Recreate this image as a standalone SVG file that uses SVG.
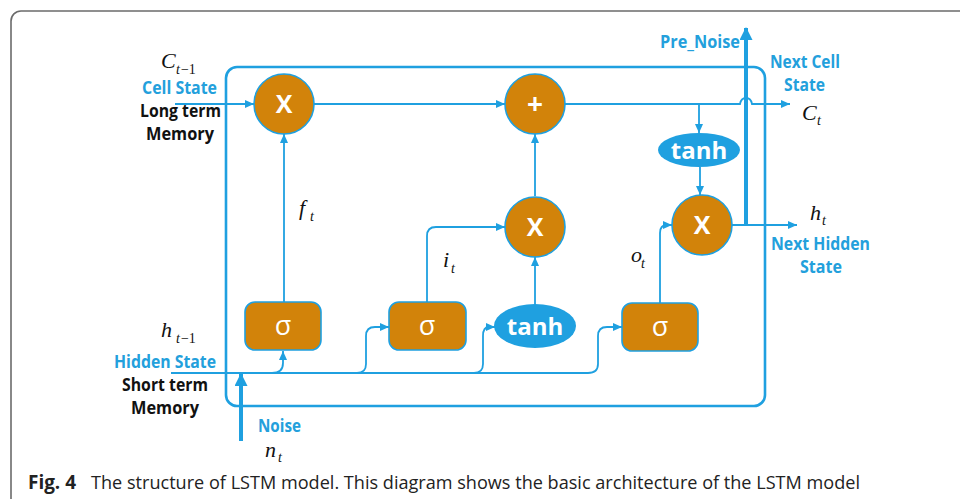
<svg xmlns="http://www.w3.org/2000/svg" width="960" height="499" viewBox="0 0 960 499">
<defs>
<style>
.frame{fill:none;stroke:#6b6b6b;stroke-width:1.6}
.box{fill:none;stroke:#1fa0e0;stroke-width:2.6}
.ln{fill:none;stroke:#1fa0e0;stroke-width:1.8}
.thick{fill:none;stroke:#1fa0e0;stroke-width:4}
.op{fill:#d2830a;stroke:#1fa0e0;stroke-width:1.6}
.tanh{fill:#1fa0e0;stroke:none}
.opt{font-family:"Open Sans","DejaVu Sans",sans-serif;font-weight:bold;fill:#ffffff;text-anchor:middle}
.sig{font-family:"Open Sans","DejaVu Sans",sans-serif;fill:#ffffff;text-anchor:middle;font-size:27px}
.bl{font-family:"Open Sans","DejaVu Sans",sans-serif;font-weight:bold;fill:#23a0dc;font-size:17px}
.bk{font-family:"Open Sans","DejaVu Sans",sans-serif;font-weight:bold;fill:#111111;font-size:17px}
.m{font-family:"Liberation Serif","DejaVu Serif",serif;font-style:italic;fill:#111111;font-size:22px}
.s{font-size:14px}
.cap{font-family:"Open Sans","Noto Sans",sans-serif;fill:#222222;font-size:19px}
</style>
<marker id="a" markerUnits="userSpaceOnUse" markerWidth="9" markerHeight="8" viewBox="0 0 9 8" refX="9" refY="4" orient="auto"><path d="M0,0 L9,4 L0,8 z" fill="#1fa0e0"/></marker>
<marker id="A" markerUnits="userSpaceOnUse" markerWidth="13" markerHeight="13" viewBox="0 0 13 13" refX="12" refY="6.5" orient="auto"><path d="M0,0 L13,6.5 L0,13 z" fill="#1fa0e0"/></marker>
</defs>
<rect width="960" height="499" fill="#ffffff"/>
<rect class="frame" x="11" y="11" width="1000" height="560" rx="10"/>

<g id="lstm-cell"><rect class="box" x="226" y="67" width="539" height="339" rx="11"/></g>

<g id="connectors">
<path class="ln" d="M175,104 L254,104" marker-end="url(#a)"/>
<path class="ln" d="M314,104 L505,104" marker-end="url(#a)"/>
<path class="ln" d="M565,104 L740,104 Q741,98 746,98 Q751,98 752,104 L790,104" marker-end="url(#a)"/>
<path class="ln" d="M699,104 L699,133" marker-end="url(#a)"/>
<path class="ln" d="M700,167 L700,195" marker-end="url(#a)"/>
<path class="ln" d="M732,225 L797,225" marker-end="url(#a)"/>
<path class="thick" d="M746,225 L746,28" marker-end="url(#A)"/>
<path class="ln" d="M284,302 L284,134" marker-end="url(#a)"/>
<path class="ln" d="M171,373 L588,373 Q598,373 598,364 L598,336 Q598,327 607,327 L622,327" marker-end="url(#a)"/>
<path class="ln" d="M272,373 Q283,373 283,363 L283,351" marker-end="url(#a)"/>
<path class="ln" d="M357,373 Q366,373 366,364 L366,336 Q366,327 375,327 L389,327" marker-end="url(#a)"/>
<path class="ln" d="M474,373 Q483,373 483,364 L483,336 Q483,327 489,327 L495,327" marker-end="url(#a)"/>
<path class="ln" d="M427,302 L427,236 Q427,227 436,227 L505,227" marker-end="url(#a)"/>
<path class="ln" d="M535,304 L535,257" marker-end="url(#a)"/>
<path class="ln" d="M535,196 L535,134" marker-end="url(#a)"/>
<path class="ln" d="M660,303 L660,233 Q660,225 667,225 L672,225" marker-end="url(#a)"/>
<path class="thick" d="M241,441 L241,374" marker-end="url(#A)"/>
</g>

<g id="forget-mult"><circle class="op" cx="284" cy="104" r="30"/><text class="opt" x="284" y="113" font-size="25">X</text></g>
<g id="add"><circle class="op" cx="535" cy="104" r="30"/><text class="opt" x="535" y="114" font-size="28">+</text></g>
<g id="input-mult"><circle class="op" cx="535" cy="227" r="30"/><text class="opt" x="535" y="236" font-size="25">X</text></g>
<g id="output-mult"><circle class="op" cx="702" cy="225" r="30"/><text class="opt" x="702" y="234" font-size="25">X</text></g>
<g id="tanh-cell"><ellipse class="tanh" cx="699" cy="150" rx="41" ry="17"/><text class="opt" x="699" y="159" font-size="24">tanh</text></g>
<g id="tanh-input"><ellipse class="tanh" cx="535" cy="326" rx="41" ry="22"/><text class="opt" x="535" y="335" font-size="24">tanh</text></g>
<g id="sigma-forget"><rect class="op" x="245" y="302" width="76" height="48" rx="10"/><text class="sig" x="283" y="335">σ</text></g>
<g id="sigma-input"><rect class="op" x="389" y="302" width="77" height="48" rx="10"/><text class="sig" x="427" y="335">σ</text></g>
<g id="sigma-output"><rect class="op" x="622" y="303" width="76" height="48" rx="10"/><text class="sig" x="660" y="336">σ</text></g>

<g id="labels">
<text class="m" x="161" y="68">C<tspan class="s" x="176" y="74">t</tspan><tspan class="s" font-style="normal" dx="1">−1</tspan></text>
<text class="bl" x="142" y="94" textLength="75" lengthAdjust="spacingAndGlyphs">Cell State</text>
<text class="bk" x="140" y="117" textLength="81" lengthAdjust="spacingAndGlyphs">Long term</text>
<text class="bk" x="146" y="140" textLength="68" lengthAdjust="spacingAndGlyphs">Memory</text>
<text class="m" x="299" y="215">f<tspan class="s" x="310" y="221">t</tspan></text>
<text class="m" x="443" y="267">i<tspan class="s" x="451" y="273">t</tspan></text>
<text class="m" x="631" y="262">o<tspan class="s" x="641" y="268">t</tspan></text>
<text class="m" x="161" y="337">h<tspan class="s" x="176" y="343">t</tspan><tspan class="s" font-style="normal" dx="1">−1</tspan></text>
<text class="bl" x="114" y="368" textLength="102" lengthAdjust="spacingAndGlyphs">Hidden State</text>
<text class="bk" x="122" y="391" textLength="86" lengthAdjust="spacingAndGlyphs">Short term</text>
<text class="bk" x="131" y="414" textLength="68" lengthAdjust="spacingAndGlyphs">Memory</text>
<text class="bl" x="258" y="432" textLength="43" lengthAdjust="spacingAndGlyphs">Noise</text>
<text class="m" x="265" y="457" font-size="21">n<tspan class="s" x="278" y="462">t</tspan></text>
<text class="bl" x="660" y="48" textLength="80" lengthAdjust="spacingAndGlyphs">Pre_Noise</text>
<text class="bl" x="770" y="68" textLength="70" lengthAdjust="spacingAndGlyphs">Next Cell</text>
<text class="bl" x="784" y="91" textLength="41" lengthAdjust="spacingAndGlyphs">State</text>
<text class="m" x="802" y="120">C<tspan class="s" x="817" y="125">t</tspan></text>
<text class="m" x="810" y="220">h<tspan class="s" x="822" y="225">t</tspan></text>
<text class="bl" x="771" y="250" textLength="99" lengthAdjust="spacingAndGlyphs">Next Hidden</text>
<text class="bl" x="800" y="273" textLength="42" lengthAdjust="spacingAndGlyphs">State</text>
</g>

<g id="caption">
<text class="cap" x="28" y="489" font-weight="bold" font-size="20" textLength="48" lengthAdjust="spacingAndGlyphs">Fig. 4</text>
<text class="cap" x="91" y="489" textLength="769" lengthAdjust="spacingAndGlyphs">The structure of LSTM model. This diagram shows the basic architecture of the LSTM model</text>
</g>
</svg>
